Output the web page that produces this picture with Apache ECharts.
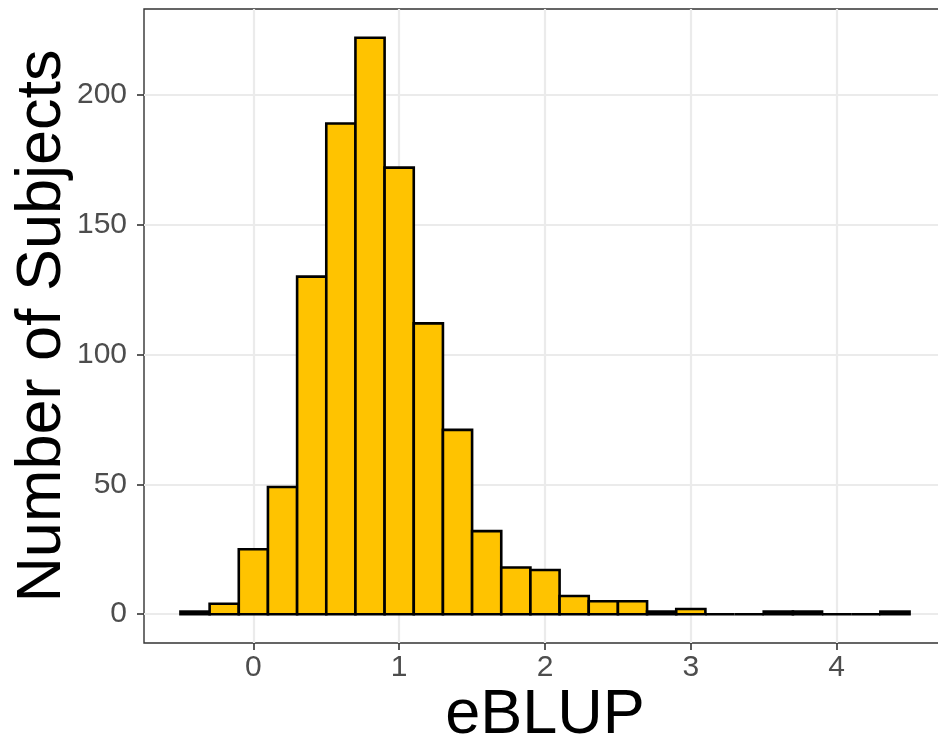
<!DOCTYPE html>
<html>
<head>
<meta charset="utf-8">
<script src="https://cdn.jsdelivr.net/npm/echarts@6/dist/echarts.min.js"></script>
<style>
  html, body { margin: 0; padding: 0; background: #fff; overflow: hidden; }
  /* panel is a little wider than the window: its right border falls off the picture */
  #chart { width: 946px; height: 746px; }
</style>
</head>
<body>
<div id="chart"></div>
<script>
  // histogram of eBLUP, bins 0.2 wide
  var binCenters = [-0.4, -0.2, 0, 0.2, 0.4, 0.6, 0.8, 1.0, 1.2, 1.4, 1.6, 1.8, 2.0,
                    2.2, 2.4, 2.6, 2.8, 3.0, 3.2, 3.4, 3.6, 3.8, 4.0, 4.2, 4.4];
  var counts = [1, 4, 25, 49, 130, 189, 222, 172, 112, 71, 32, 18, 17,
                7, 5, 5, 1, 2, 0, 0, 1, 1, 0, 0, 1];
  var binWidth = 0.2;
  var xTicks = [0, 1, 2, 3, 4];
  var yTicks = [0, 50, 100, 150, 200];

  var font = "'Liberation Sans', Arial, sans-serif";
  var myChart = echarts.init(document.getElementById('chart'));

  var option = {
    backgroundColor: '#ffffff',
    animation: false,
    grid: {
      left: 144, top: 9, right: 0, bottom: 103,
      outerBoundsMode: 'none',
      show: true, borderColor: '#333333', borderWidth: 1.4, backgroundColor: '#ffffff'
    },
    xAxis: {
      type: 'value',
      min: -0.75, max: 4.75,
      name: 'eBLUP',
      nameLocation: 'middle',
      nameGap: 41,
      nameMoveOverlap: false,
      nameTextStyle: { fontFamily: font, fontSize: 63, color: '#000000' },
      axisLine: { show: false, onZero: false },
      axisTick: { show: true, length: 7, customValues: xTicks, lineStyle: { color: '#333333', width: 1.6 } },
      axisLabel: { customValues: xTicks, margin: 10, fontFamily: font, fontSize: 30, color: '#4D4D4D' },
      splitLine: { show: true, lineStyle: { color: '#EBEBEB', width: 2.2 } }
    },
    yAxis: {
      type: 'value',
      min: -11.1, max: 233.1,
      name: 'Number of Subjects',
      nameLocation: 'middle',
      nameRotate: 90,
      nameGap: 70,
      nameMoveOverlap: false,
      nameTextStyle: { fontFamily: font, fontSize: 63, color: '#000000' },
      axisLine: { show: false, onZero: false },
      axisTick: { show: true, length: 7, customValues: yTicks, lineStyle: { color: '#333333', width: 1.6 } },
      axisLabel: { customValues: yTicks, margin: 17, fontFamily: font, fontSize: 30, color: '#4D4D4D' },
      splitLine: { show: true, lineStyle: { color: '#EBEBEB', width: 2.2 } }
    },
    series: [{
      type: 'custom',
      data: binCenters.map(function (x, i) { return [x, counts[i]]; }),
      renderItem: function (params, api) {
        var x = api.value(0);
        var c = api.value(1);
        var p0 = api.coord([x - binWidth / 2, c]);
        var p1 = api.coord([x + binWidth / 2, 0]);
        return {
          type: 'rect',
          shape: { x: p0[0], y: p0[1], width: p1[0] - p0[0], height: p1[1] - p0[1] },
          style: { fill: '#FFC300', stroke: '#000000', lineWidth: 2.6 }
        };
      }
    }]
  };
  myChart.setOption(option);
</script>
</body>
</html>
